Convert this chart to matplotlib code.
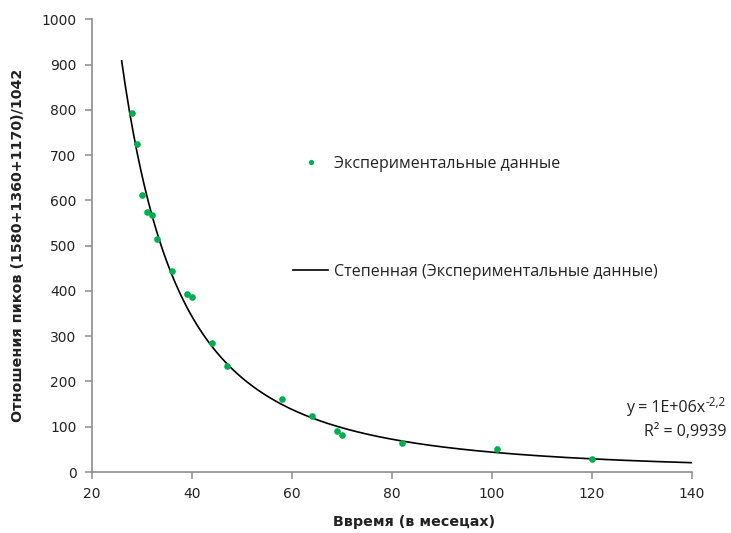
import numpy as np
import matplotlib
matplotlib.use("Agg")
import matplotlib.pyplot as plt
from matplotlib.lines import Line2D

# ── Data ─────────────────────────────────────────────────────────────────────
months = [28, 29, 30, 31, 32, 33, 36, 39, 40, 44, 47, 58, 64, 69, 70, 82, 101, 120]
ratio = [794, 725, 611, 574, 568, 514, 443, 394, 387, 285, 235, 161, 124, 90, 82, 65, 50, 29]

x_ticks = [20, 40, 60, 80, 100, 120, 140]
y_ticks = [0, 100, 200, 300, 400, 500, 600, 700, 800, 900, 1000]

trend_from, trend_to = 26, 140

series_label = "Экспериментальные данные"
trend_label = "Степенная (Экспериментальные данные)"
x_label = "Ввремя (в месецах)"
y_label = "Отношения пиков (1580+1360+1170)/1042"
eq_main, eq_power = "y = 1E+06x", "-2,2"
r2_text = "R² = 0,9939"

# ── Style ────────────────────────────────────────────────────────────────────
green = "#00b050"
axis_gray = "#8c8c8c"
text_col = "#222222"

fig = plt.figure(figsize=(7.31, 5.33), dpi=100)
ax = fig.add_axes([0.1254, 0.1144, 0.8209, 0.8494])

# power trend line fitted in log space (as Excel does)
b, ln_a = np.polyfit(np.log(months), np.log(ratio), 1)
xs = np.linspace(trend_from, trend_to, 300)
ax.plot(xs, np.exp(ln_a) * xs ** b, color="black", lw=1.2, zorder=2)

ax.plot(months, ratio, "o", color=green, ms=4.8, mec="none", zorder=3)

ax.set_xlim(x_ticks[0], x_ticks[-1])
ax.set_ylim(y_ticks[0], y_ticks[-1])
ax.set_xticks(x_ticks)
ax.set_yticks(y_ticks)

for side in ("top", "right"):
    ax.spines[side].set_visible(False)
for side in ("left", "bottom"):
    ax.spines[side].set_color(axis_gray)
    ax.spines[side].set_linewidth(1.2)
ax.tick_params(axis="both", direction="out", length=5, width=1.1,
               color=axis_gray, labelsize=10, labelcolor=text_col, pad=6)

ax.set_xlabel(x_label, fontsize=10.3, fontweight="bold", color=text_col)
ax.xaxis.set_label_coords(0.537, -0.094)
ax.set_ylabel(y_label, fontsize=10.3, fontweight="bold", color=text_col, labelpad=12)

# ── Legend (spread out like the Excel one) ───────────────────────────────────
fs = 11.5
handles = [
    Line2D([], [], ls="none", marker="o", ms=3.8, color=green, mec="none"),
    Line2D([], [], color="black", lw=1.2),
]
leg = fig.legend(handles, [series_label, trend_label], loc="center left",
                 bbox_to_anchor=(293 / 731, 1 - 218 / 533), frameon=False,
                 borderpad=0, borderaxespad=0,
                 handlelength=2.2, handletextpad=0.35, labelspacing=5.75,
                 prop={"family": "Open Sans", "size": fs})
for t in leg.get_texts():
    t.set_color(text_col)

# ── Trend equation ───────────────────────────────────────────────────────────
eq = fig.text(626 / 731, 1 - 408 / 533, eq_main, ha="left", va="center",
              fontsize=11.5, family="Open Sans", color=text_col)
fig.canvas.draw()
bb = eq.get_window_extent()
fig.text(bb.x1 / fig.bbox.width, 1 - 402 / 533, eq_power, ha="left", va="center",
         fontsize=8.5, family="Open Sans", color=text_col)
fig.text(726 / 731, 1 - 432 / 533, r2_text, ha="right", va="center",
         fontsize=11.5, family="Open Sans", color=text_col)

fig.savefig("out.png", dpi=100, facecolor="white")
